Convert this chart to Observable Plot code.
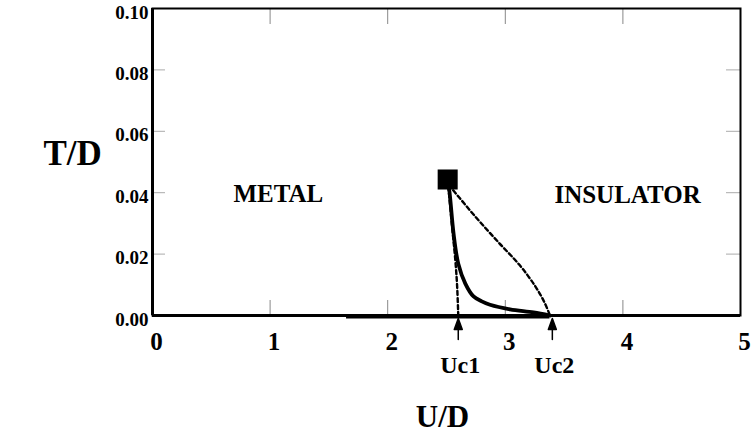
<!DOCTYPE html>
<html><head><meta charset="utf-8">
<script src="https://cdn.jsdelivr.net/npm/d3@7"></script>
<script src="https://cdn.jsdelivr.net/npm/@observablehq/plot@0.6"></script>
<style>
body{margin:0;background:#fff}
#chart svg, #chart svg text{font-family:"Liberation Serif","Times New Roman",Times,serif !important;font-weight:bold}
</style>
</head><body><div id="chart"></div>
<script>
// tick values
const xTicks = [0, 1, 2, 3, 4, 5];
const yTicks = [0, 0.02, 0.04, 0.06, 0.08, 0.10];
const innerXTicks = [1, 2, 3, 4];
const innerYTicks = [0.02, 0.04, 0.06, 0.08];

// critical end point
const criticalU = [2.51];
const criticalT = [0.0443];

// solid first-order line
const solidU = [2.51, 2.526, 2.56, 2.60, 2.66, 2.73, 2.80, 2.87, 3.04, 3.24, 3.38];
const solidT = [0.0443, 0.0401, 0.0267, 0.0169, 0.0104, 0.0062, 0.0046, 0.0035, 0.0020, 0.0010, 0.0];

// dotted spinodal Uc1(T)
const uc1U = [2.51, 2.55, 2.575, 2.59, 2.60];
const uc1T = [0.0443, 0.028, 0.018, 0.0098, 0.0];

// dotted spinodal Uc2(T)
const uc2U = [2.52, 2.75, 2.95, 3.12, 3.25, 3.33, 3.38];
const uc2T = [0.0425, 0.032, 0.0235, 0.0165, 0.0098, 0.0045, 0.0];

// metal ground-state line along T = 0
const metalLineU = [1.65, 3.38];

// critical values and labels
const ucValues = [2.60, 3.40];
const ucLabels = ["Uc1", "Uc2"];

// phase labels
const phaseLabels = ["METAL", "INSULATOR"];
const phaseU = [1.07, 4.04];
const phaseT = [0.0395, 0.0392];

const toRows = (xs, ys) => xs.map((x, i) => ({U: x, T: ys[i]}));

const arrowUp = {
  draw(ctx, l) {
    ctx.moveTo(0, 0);
    ctx.lineTo(0, -l + 8);
    ctx.moveTo(0, -l);
    ctx.lineTo(-4, -l + 11);
    ctx.lineTo(4, -l + 11);
    ctx.closePath();
  }
};

const font = '"Liberation Serif", "Times New Roman", Times, serif';

const chart = Plot.plot({
  width: 751,
  height: 434,
  marginLeft: 152,
  marginRight: 11,
  marginTop: 8,
  marginBottom: 119,
  x: {domain: [0, 5]},
  y: {domain: [0, 0.10]},
  style: {fontFamily: font, fontWeight: "bold", background: "white", color: "black"},
  marks: [
    // inner ticks
    Plot.axisX(innerXTicks, {anchor: "bottom", tickSize: 15, dy: -15, tickFormat: () => "", stroke: "#888", label: null}),
    Plot.axisX(innerXTicks, {anchor: "top", tickSize: 15, dy: 15, tickFormat: () => "", stroke: "#888", label: null}),
    Plot.axisY(innerYTicks, {anchor: "left", tickSize: 13, dx: 13, tickFormat: () => "", stroke: "#aaa", label: null}),
    Plot.axisY(innerYTicks, {anchor: "right", tickSize: 15, dx: -15, tickFormat: () => "", stroke: "#aaa", label: null}),
    // tick labels
    Plot.axisX(xTicks, {anchor: "bottom", tickSize: 0, tickPadding: 17, dx: 4, fontSize: 25, fontWeight: "bold", fontFamily: font, tickFormat: d => String(d), label: null}),
    Plot.axisY(yTicks, {anchor: "left", tickSize: 0, tickPadding: 4, dy: 4, fontSize: 19, fontWeight: "bold", fontFamily: font, tickFormat: d => d.toFixed(2), label: null}),
    // frame
    Plot.frame({strokeWidth: 2}),
    Plot.ruleX([0], {strokeWidth: 3}),
    Plot.ruleY([0], {strokeWidth: 3}),
    Plot.ruleY([0], {x1: metalLineU[0], x2: metalLineU[1], strokeWidth: 2, dy: 2}),
    // curves
    Plot.line(toRows(uc1U, uc1T), {x: "U", y: "T", stroke: "black", strokeWidth: 2.4, strokeDasharray: "4,3", curve: "catmull-rom"}),
    Plot.line(toRows(uc2U, uc2T), {x: "U", y: "T", stroke: "black", strokeWidth: 2.4, strokeDasharray: "4,3", curve: "catmull-rom"}),
    Plot.line(toRows(solidU, solidT), {x: "U", y: "T", stroke: "black", strokeWidth: 3.8, curve: "catmull-rom"}),
    Plot.dot(toRows(criticalU, criticalT), {x: "U", y: "T", symbol: "square", r: 11.3, fill: "black", stroke: "none"}),
    // phase labels
    Plot.text(phaseLabels, {x: (d, i) => phaseU[i], y: (d, i) => phaseT[i], text: d => d, fontSize: 25, fontWeight: "bold", fontFamily: font, lineAnchor: "middle"}),
    // Uc arrows and labels
    Plot.vector(ucValues, {x: d => d, y: 0, length: 21, rotate: 0, anchor: "end", shape: arrowUp, stroke: "black", fill: "black", strokeWidth: 1.5, dy: 3}),
    Plot.text(ucValues, {x: d => d, y: 0, text: (d, i) => ucLabels[i], dy: 50, dx: 2, fontSize: 24, fontWeight: "bold", fontFamily: font, lineAnchor: "middle"}),
    // axis titles
    Plot.text(["T/D"], {frameAnchor: "left", dx: -109, dy: -8, fontSize: 35, fontWeight: "bold", fontFamily: font, lineAnchor: "middle"}),
    Plot.text(["U/D"], {frameAnchor: "bottom", dx: -4, dy: 102, fontSize: 31, fontWeight: "bold", fontFamily: font, lineAnchor: "middle"})
  ]
});
document.getElementById("chart").appendChild(chart);
</script>
</body></html>
